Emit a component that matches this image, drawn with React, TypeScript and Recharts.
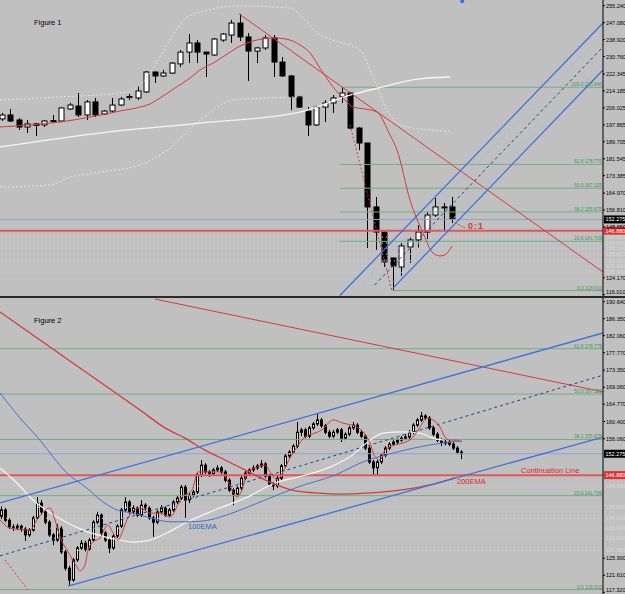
import React from 'react';
import { ComposedChart, Bar, Line, XAxis, YAxis, ReferenceLine, ReferenceDot } from 'recharts';

// ---------- Figure 1 (daily candles) ----------
const topOpen = [200.7, 202.6, 200.2, 196.8, 198.3, 197.8, 199.9, 199.7, 205.5, 206.9, 202.6, 208.9, 203.1, 204.5, 207.4, 211.3, 210.8, 213.7, 223.3, 221.4, 222.8, 227.2, 232.9, 237.3, 232.9, 231.5, 238.7, 241.1, 246.9, 240.2, 233.4, 234.9, 239.7, 228.1, 221.4, 211.3, 204.5, 197.8, 206.4, 208.4, 211.3, 213.2, 196.3, 189.1, 158.3, 146.2, 133.7, 129.4, 139.0, 142.4, 146.2, 154.4, 158.0, 158.3];
const topHigh = [203.6, 205.5, 201.2, 200.2, 198.7, 200.2, 202.6, 206.4, 208.4, 213.2, 209.8, 210.8, 205.0, 210.8, 211.3, 212.7, 216.6, 223.8, 223.5, 224.3, 228.1, 233.9, 241.6, 238.7, 233.0, 239.7, 242.1, 248.4, 251.3, 242.1, 235.4, 241.1, 241.1, 230.5, 221.9, 211.8, 206.4, 207.0, 209.8, 212.2, 216.1, 213.7, 196.8, 189.1, 163.1, 146.5, 133.9, 140.9, 143.8, 149.6, 155.9, 162.6, 160.2, 163.1];
const topLow = [199.7, 199.2, 195.4, 193.9, 192.5, 196.8, 198.7, 199.2, 205.0, 201.6, 200.2, 201.6, 202.6, 203.6, 206.9, 209.8, 209.8, 213.2, 218.0, 220.9, 222.3, 225.7, 227.6, 227.6, 220.9, 231.0, 237.8, 237.3, 238.2, 219.0, 227.6, 233.9, 220.9, 220.9, 205.0, 206.0, 192.5, 197.3, 199.2, 203.6, 208.4, 195.8, 185.7, 138.5, 137.6, 129.4, 118.3, 125.0, 131.3, 138.5, 142.8, 153.5, 146.7, 150.6];
const topClose = [202.6, 199.7, 196.8, 198.3, 197.6, 199.7, 199.7, 206.0, 207.4, 202.6, 208.9, 202.6, 204.5, 207.4, 210.3, 211.5, 214.2, 223.3, 221.4, 222.8, 227.6, 232.9, 237.3, 232.9, 232.0, 239.2, 241.6, 246.9, 240.2, 233.4, 234.9, 239.7, 228.1, 221.4, 211.3, 206.4, 197.8, 206.4, 208.4, 210.8, 213.2, 196.3, 189.1, 158.3, 146.2, 131.8, 129.8, 139.5, 142.4, 146.2, 154.4, 158.3, 158.3, 152.3];

const topTicks = [255.24, 247.08, 238.92, 230.76, 222.345, 214.185, 206.025, 197.865, 189.705, 181.545, 173.385, 164.97, 156.81, 148.65, 124.17, 116.01];

const topRedEma = [[-0.2, 196.8], [3.33, 197.8], [6.86, 199.2], [10.39, 201.6], [13.92, 204.5], [16.28, 206.4], [17.46, 207.9], [18.63, 210.8], [20.4, 215.6], [22.16, 220.4], [23.34, 224.3], [25.1, 228.1], [26.87, 232.9], [28.05, 235.8], [29.23, 237.8], [30.64, 239.2], [32.17, 239.7], [33.93, 238.7], [35.11, 236.3], [36.29, 232.5], [37.46, 225.2], [39.0, 216.1], [40.41, 209.8], [41.35, 206.4], [42.76, 205.5], [44.17, 204.0], [45.7, 193.0], [46.53, 185.7], [48.06, 161.6], [49.59, 145.7], [50.76, 136.1], [51.59, 134.7], [52.29, 135.6], [53.0, 139.5]];
const topWhiteMa = [[-0.2, 187.2], [11.57, 193.9], [23.34, 198.7], [35.11, 204.0], [41.0, 212.2], [44.88, 216.1], [48.88, 219.9], [52.77, 220.9]];
const topUpperBand = [[-0.2, 209.8], [6.86, 211.3], [13.92, 213.2], [16.28, 217.0], [18.04, 226.7], [19.81, 238.7], [21.22, 247.4], [23.34, 252.2], [28.05, 255.1], [33.93, 254.1], [35.7, 248.4], [37.11, 242.1], [38.99, 238.7], [42.17, 233.9], [43.7, 220.9], [45.35, 205.0], [46.88, 197.8], [50.41, 195.4], [52.77, 194.9]];
const topLowerBand = [[-0.2, 167.9], [5.69, 168.9], [7.69, 172.2], [11.57, 175.1], [16.28, 178.5], [19.46, 185.7], [23.34, 200.2], [27.22, 209.8], [35.11, 211.3]];

const topUpperBlue = [[39.8, 115.6], [70.77, 246.9]];
const topLowerBlue = [[46.06, 119.2], [70.77, 224.3]];
const topMidDash = [[43.9, 120.7], [70.77, 235.4]];
const topLightDash1 = [[41.0, 115.4], [70.77, 242.1]];
const topLightDash2 = [[44.4, 115.4], [70.77, 227.6]];
const topRedTrend = [[27.93, 251.3], [70.77, 126.95]];
const topRedZig = [[41.0, 197.8], [45.9, 118.3]];
const topArrow = [[53.35, 150.6], [54.53, 148.2]];

const fibNames = ['100.0', '61.8', '50.0', '38.2', '23.6', '0.0'];
const fibValues = [215.94, 178.775, 167.325, 155.875, 141.709, 118.01];
const topFibStart = [40.2, 39.8, 39.8, 39.8, 39.8, 45.9];
const topGrayLevels = [143.8, 140.9, 138.5, 135.6, 132.3, 129.8, 126.9];

// ---------- Figure 2 (short-term candles) ----------
const botOpen = [136.5, 138.1, 135.5, 133.8, 133.5, 134.0, 133.3, 131.8, 133.0, 136.1, 139.8, 137.6, 135.0, 131.8, 130.5, 133.5, 127.5, 123.4, 120.4, 125.5, 128.5, 129.7, 128.2, 130.5, 135.0, 136.8, 132.3, 130.5, 128.5, 131.5, 134.0, 138.1, 140.1, 137.6, 138.6, 136.8, 139.3, 138.6, 136.1, 135.0, 137.6, 138.6, 136.8, 138.1, 140.1, 141.1, 143.9, 140.6, 141.8, 142.6, 146.9, 149.4, 147.7, 147.2, 148.2, 148.7, 147.7, 145.6, 143.1, 142.1, 143.6, 146.1, 147.4, 148.2, 148.7, 149.2, 149.7, 146.7, 144.6, 144.1, 146.1, 149.2, 151.7, 152.7, 154.2, 157.7, 158.3, 156.7, 158.8, 159.8, 160.8, 159.3, 157.7, 156.7, 157.7, 158.3, 156.2, 157.2, 158.8, 159.5, 157.7, 156.7, 153.7, 150.2, 148.7, 150.2, 151.9, 153.7, 154.7, 155.2, 155.7, 156.2, 156.5, 157.7, 159.5, 160.8, 161.8, 161.3, 158.8, 157.2, 155.7, 155.2, 155.2, 154.7, 153.7, 152.7];
const botHigh = [139.0, 138.6, 136.0, 134.5, 134.6, 134.4, 133.8, 133.5, 136.6, 141.3, 140.6, 138.0, 135.5, 132.3, 134.5, 134.0, 128.0, 124.0, 126.0, 129.0, 130.5, 130.3, 131.0, 135.5, 137.6, 137.2, 132.8, 131.0, 132.0, 134.5, 138.6, 141.3, 140.6, 139.3, 139.0, 140.6, 139.8, 139.0, 136.6, 138.1, 139.3, 139.0, 138.6, 140.6, 141.8, 144.4, 144.4, 142.3, 143.1, 147.4, 150.7, 149.9, 148.2, 148.7, 149.4, 149.2, 148.2, 146.1, 143.6, 144.1, 146.7, 147.9, 148.7, 149.4, 149.7, 150.7, 150.2, 147.2, 145.1, 146.7, 149.7, 152.2, 153.2, 154.7, 160.3, 158.8, 158.8, 159.3, 160.3, 162.5, 161.3, 159.8, 158.3, 158.3, 158.8, 158.8, 157.7, 159.3, 160.3, 160.0, 158.3, 157.2, 154.2, 150.7, 150.7, 152.4, 154.2, 155.2, 155.7, 156.2, 156.7, 157.2, 158.3, 160.0, 161.3, 162.8, 162.3, 161.8, 159.3, 157.7, 156.2, 156.0, 155.7, 155.2, 154.2, 153.2];
const botLow = [135.8, 135.0, 133.3, 132.8, 133.0, 132.6, 130.3, 131.3, 132.6, 135.8, 137.0, 134.5, 131.3, 129.2, 130.0, 127.0, 122.8, 119.1, 120.0, 125.0, 128.0, 127.6, 127.8, 130.0, 134.5, 131.8, 130.0, 127.2, 128.0, 131.0, 133.5, 137.6, 137.0, 137.0, 136.3, 136.3, 138.0, 135.6, 131.3, 134.5, 137.0, 136.3, 136.3, 137.6, 139.6, 140.6, 136.1, 139.8, 141.3, 142.1, 146.4, 147.2, 146.4, 146.7, 147.7, 147.2, 145.1, 142.6, 139.3, 141.6, 143.1, 145.6, 146.9, 147.7, 148.2, 148.7, 146.1, 144.1, 143.1, 143.6, 145.6, 148.7, 151.2, 152.2, 153.7, 156.7, 156.2, 156.2, 158.3, 159.3, 158.8, 157.2, 156.2, 156.2, 157.2, 155.2, 155.7, 156.7, 158.3, 157.2, 156.2, 153.2, 149.7, 146.9, 146.9, 149.7, 151.4, 153.2, 154.2, 154.7, 155.2, 155.7, 156.0, 157.2, 159.0, 160.3, 160.8, 158.3, 156.7, 155.2, 154.2, 154.4, 154.2, 153.2, 152.2, 150.9];
const botClose = [138.1, 135.5, 133.8, 133.5, 134.0, 133.3, 131.8, 133.0, 136.1, 139.8, 137.6, 135.0, 131.8, 130.5, 133.5, 127.5, 123.4, 120.4, 125.5, 128.5, 129.7, 128.2, 130.5, 135.0, 136.8, 132.3, 130.5, 128.5, 131.5, 134.0, 138.1, 140.1, 137.6, 138.6, 136.8, 139.3, 138.6, 136.1, 135.0, 137.6, 138.6, 136.8, 138.1, 140.1, 141.1, 143.9, 140.6, 141.8, 142.6, 146.9, 149.4, 147.7, 147.2, 148.2, 148.7, 147.7, 145.6, 143.1, 142.1, 143.6, 146.1, 147.4, 148.2, 148.7, 149.2, 149.7, 146.7, 144.6, 144.1, 146.1, 149.2, 151.7, 152.7, 154.2, 157.7, 158.3, 156.7, 158.8, 159.8, 160.8, 159.3, 157.7, 156.7, 157.7, 158.3, 156.2, 157.2, 158.8, 159.5, 157.7, 156.7, 153.7, 150.2, 148.7, 150.2, 151.9, 153.7, 154.7, 155.2, 155.7, 156.2, 156.5, 157.7, 159.5, 160.8, 161.8, 161.3, 158.8, 157.2, 155.7, 155.2, 155.2, 154.7, 153.7, 152.7, 152.3];

const botTicks = [190.64, 186.35, 182.06, 177.77, 173.35, 169.06, 164.77, 160.4, 156.06, 125.9, 121.61, 117.32];

const botRedEma = [[-0.25, 135.6], [2.25, 133.5], [7.25, 133.0], [9.0, 135.6], [12.25, 138.6], [13.5, 135.6], [14.75, 131.3], [16.5, 128.0], [19.0, 123.7], [19.75, 122.7], [21.0, 124.2], [21.75, 128.0], [23.0, 130.0], [24.75, 131.0], [26.0, 133.5], [26.75, 134.3], [28.0, 132.3], [29.25, 130.5], [30.5, 133.0], [31.5, 135.6], [32.75, 137.6], [34.75, 138.6], [37.25, 137.3], [39.75, 137.3], [42.25, 136.3], [45.25, 141.4], [47.75, 143.1], [49.25, 147.7], [51.0, 147.7], [55.25, 147.7], [56.5, 145.7], [57.75, 143.1], [59.0, 141.4], [60.25, 143.1], [61.5, 147.4], [63.5, 148.7], [66.0, 149.4], [67.75, 146.9], [69.0, 145.7], [70.5, 147.7], [72.25, 151.2], [74.0, 154.0], [76.0, 156.5], [78.5, 157.5], [80.25, 158.3], [83.0, 160.8], [85.5, 160.0], [89.0, 159.0], [90.5, 157.8], [92.25, 155.0], [93.5, 151.5], [94.75, 150.7], [96.0, 153.2], [98.5, 154.5], [100.5, 155.0], [102.75, 156.2], [104.75, 159.0], [106.5, 161.3], [108.0, 160.8], [109.75, 159.0], [111.0, 156.5], [112.25, 155.7], [114.0, 155.7], [115.25, 155.2]];
const bot200Ema = [[-0.25, 188.04], [12.25, 179.2], [24.75, 170.4], [34.75, 163.3], [41.0, 158.8], [46.0, 156.2], [51.0, 153.2], [56.0, 150.7], [61.0, 148.2], [66.0, 145.7], [72.75, 143.1], [78.5, 142.4], [83.5, 142.1], [92.25, 142.4], [99.75, 143.1], [107.25, 144.4], [113.5, 146.2]];
const bot100Ema = [[-0.25, 167.6], [4.75, 161.3], [9.75, 155.7], [13.0, 151.5], [16.5, 147.4], [21.5, 143.6], [25.5, 140.1], [29.0, 138.1], [33.0, 137.3], [37.25, 136.1], [42.25, 135.1], [47.25, 135.1], [52.25, 135.6], [57.75, 137.3], [66.0, 140.6], [74.25, 143.9], [83.5, 146.9], [90.5, 150.2], [99.0, 152.7], [107.25, 154.5], [115.25, 155.5]];
const botWhiteMa = [[-0.25, 148.7], [4.0, 144.9], [8.0, 140.6], [14.0, 136.3], [20.5, 133.0], [27.25, 131.0], [33.0, 130.0], [37.25, 130.5], [41.5, 132.3], [46.0, 134.8], [53.5, 138.1], [61.75, 141.4], [68.5, 144.9], [74.25, 146.4], [82.25, 148.9], [87.25, 151.5], [92.25, 155.7], [95.5, 157.5], [100.5, 157.8], [104.75, 157.5], [108.0, 156.2], [110.5, 155.7]];

const botUpperBlue = [[-0.25, 139.85], [150.5, 182.74]];
const botLowerBlue = [[16.75, 118.9], [150.5, 156.5]];
const botMidDash = [[-0.25, 126.5], [150.5, 172.1]];
const botRedTrend = [[38.5, 191.3], [150.5, 167.9]];
const botRedDotted = [[1.0, 125.5], [6.75, 117.9]];
const botGrayLevels = [144.1, 138.8, 136.0, 133.5, 131.0, 127.9];

const lastPrice = 152.275;
const contLine = 146.88;

const topData = topOpen.map((o, i) => ({ x: i, open: o, high: topHigh[i], low: topLow[i], close: topClose[i], range: [topLow[i], topHigh[i]] }));
const botData = botOpen.map((o, i) => ({ x: i, open: o, high: botHigh[i], low: botLow[i], close: botClose[i], range: [botLow[i], botHigh[i]] }));
const pts = (a: number[][]) => a.map(([x, y]) => ({ x, y }));

const RED = '#d53a3a';
const BLUE = '#3c72e0';
const GREEN = '#72ae82';
const FIBTXT = '#3e9a58';
const FONT = 'Liberation Sans';

function Candle(props: any) {
  const { x, y, width, height, payload, bodyW, hollow } = props;
  if (!payload) return null;
  const { open, close, high, low } = payload;
  const top = Math.min(y, y + height);
  const h = Math.abs(height);
  const k = high > low ? h / (high - low) : 0;
  const cx = Math.round(x + width / 2) + 0.5;
  const bTop = top + (high - Math.max(open, close)) * k;
  const bH = Math.max(1, Math.abs(open - close) * k);
  const up = close >= open;
  return (
    <g>
      <line x1={cx} x2={cx} y1={top} y2={top + h} stroke="#000" strokeWidth={1} />
      <rect x={cx - bodyW / 2} y={bTop} width={bodyW} height={bH}
        fill={up ? hollow : '#000'} stroke="#000" strokeWidth={1} />
    </g>
  );
}

// price labels on the right axis; kept clear of the panel's bottom edge
function AxisTick(props: any) {
  const { x, y, payload } = props;
  const ty = Math.min(y, 292);
  return (
    <text x={x} y={ty} dy={2} fontSize={5.5} fill="#000" fontFamily={FONT} textAnchor="start">
      {Number(payload.value).toFixed(3)}
    </text>
  );
}

function Badge(props: any) {
  const { viewBox, text, bg, color } = props;
  if (!viewBox) return null;
  const x = viewBox.x + viewBox.width + 1;
  const y = viewBox.y;
  return (
    <g>
      {bg && <rect x={x} y={y - 4} width={21} height={8} fill={bg} />}
      <text x={x + 1.5} y={y + 2} fontSize={5.5} fill={color} fontFamily={FONT}>{text}</text>
    </g>
  );
}

function curve(key: string, data: number[][], stroke: string, width = 1, dash?: string, type: any = 'monotone') {
  return (
    <Line key={key} data={pts(data)} dataKey="y" type={type} stroke={stroke} strokeWidth={width} strokeDasharray={dash}
      dot={false} activeDot={false} isAnimationActive={false} />
  );
}

const axisProps = {
  orientation: 'right' as const,
  width: 22,
  interval: 0 as const,
  allowDataOverflow: true,
  tickSize: 2,
  tickMargin: 1,
  axisLine: { stroke: '#000' },
  tickLine: { stroke: '#000' },
  tick: <AxisTick />,
};

function TopChart() {
  return (
    <ComposedChart width={625} height={296} data={topData} margin={{ top: 0, right: 0, bottom: 0, left: 0 }}>
      <XAxis dataKey="x" type="number" domain={[-0.2, 70.77]} hide allowDataOverflow />
      <YAxis {...axisProps} domain={[115.39, 258]} ticks={topTicks} />
      {topGrayLevels.map((v) => (
        <ReferenceLine key={'g' + v} y={v} stroke="#d6d6d6" strokeDasharray="1 3" label={<Badge text={v.toFixed(3)} color="#d8d8d8" />} />
      ))}
      {fibValues.map((v, i) => (
        <ReferenceLine key={'f' + v} segment={[{ x: topFibStart[i], y: v }, { x: 70.77, y: v }]} stroke={GREEN} />
      ))}
      {fibValues.map((v, i) => (
        <ReferenceLine key={'fl' + v} y={v} stroke="none"
          label={{ value: fibNames[i] + ' ' + v.toFixed(3), position: 'insideBottomRight', offset: 1, fill: FIBTXT, fontSize: 4.8, fontFamily: FONT }} />
      ))}
      <ReferenceLine y={lastPrice} stroke="#8ea3d6" label={<Badge text="152.275" bg="#000" color="#fff" />} />
      <ReferenceLine y={contLine} stroke="#e05858" strokeWidth={2} label={<Badge text="146.880" bg="#e03030" color="#fff" />} />
      {curve('ub', topUpperBand, '#e2e2e2', 1, '2 2')}
      {curve('lb', topLowerBand, '#e2e2e2', 1, '2 2')}
      {curve('wm', topWhiteMa, '#f5f5f5', 1.3)}
      <Bar dataKey="range" barSize={5} shape={(p: any) => <Candle {...p} bodyW={5} hollow="#fff" />} isAnimationActive={false} />
      {curve('re', topRedEma, RED, 1)}
      {curve('rt', topRedTrend, RED, 1, undefined, 'linear')}
      {curve('rz', topRedZig, RED, 1, '2 2', 'linear')}
      {curve('ld1', topLightDash1, '#a3b8e8', 1, '3 3', 'linear')}
      {curve('ld2', topLightDash2, '#a3b8e8', 1, '3 3', 'linear')}
      {curve('md', topMidDash, '#2d3a9a', 1, '3 3', 'linear')}
      {curve('up', topUpperBlue, BLUE, 1.3, undefined, 'linear')}
      {curve('lo', topLowerBlue, BLUE, 1.3, undefined, 'linear')}
      {curve('ar', topArrow, RED, 1, '2 1', 'linear')}
      <ReferenceDot x={54.88} y={149.3} r={0} fill="none" stroke="none"
        label={{ value: '0:1', position: 'right', offset: 0, fill: RED, fontSize: 9, fontWeight: 'bold', fontFamily: FONT, letterSpacing: 1 }} />
      <ReferenceDot x={3.8} y={247.1} r={0} fill="none" stroke="none"
        label={{ value: 'Figure 1', position: 'right', offset: 0, fill: '#000', fontSize: 7.5, fontFamily: FONT }} />
      <ReferenceDot x={54.2} y={257.4} r={2} fill={BLUE} stroke="none" />
    </ComposedChart>
  );
}

function BottomChart() {
  return (
    <ComposedChart width={625} height={296} data={botData} margin={{ top: 0, right: 0, bottom: 0, left: 0 }}>
      <XAxis dataKey="x" type="number" domain={[-0.25, 150.5]} hide allowDataOverflow />
      <YAxis {...axisProps} domain={[116.89, 191.57]} ticks={botTicks} />
      {botGrayLevels.map((v) => (
        <ReferenceLine key={'g' + v} y={v} stroke="#d6d6d6" strokeDasharray="1 3" label={<Badge text={v.toFixed(3)} color="#d8d8d8" />} />
      ))}
      {fibValues.slice(1).map((v, i) => (
        <ReferenceLine key={'f' + v} y={v} stroke={GREEN}
          label={{ value: fibNames[i + 1] + ' ' + v.toFixed(3), position: 'insideBottomRight', offset: 1, fill: FIBTXT, fontSize: 4.8, fontFamily: FONT }} />
      ))}
      <ReferenceLine y={lastPrice} stroke="#8ea3d6" label={<Badge text="152.275" bg="#000" color="#fff" />} />
      <ReferenceLine y={contLine} stroke="#e05858" strokeWidth={2} label={<Badge text="146.880" bg="#e03030" color="#fff" />} />
      {curve('wm', botWhiteMa, '#f5f5f5', 1.2)}
      {curve('e100', bot100Ema, '#4a6fd0', 1)}
      {curve('e200', bot200Ema, RED, 1.3)}
      {curve('rt', botRedTrend, RED, 1, undefined, 'linear')}
      {curve('rd', botRedDotted, RED, 1, '2 2', 'linear')}
      {curve('md', botMidDash, '#2d3a9a', 1, '3 3', 'linear')}
      {curve('up', botUpperBlue, BLUE, 1.3, undefined, 'linear')}
      {curve('lo', botLowerBlue, BLUE, 1.3, undefined, 'linear')}
      <Bar dataKey="range" barSize={2} shape={(p: any) => <Candle {...p} bodyW={2} hollow="#e8e8e8" />} isAnimationActive={false} />
      {curve('re', botRedEma, RED, 1)}
      <ReferenceDot x={8.25} y={186.0} r={0} fill="none" stroke="none"
        label={{ value: 'Figure 2', position: 'right', offset: 0, fill: '#000', fontSize: 7.5, fontFamily: FONT }} />
      <ReferenceDot x={130.0} y={148.2} r={0} fill="none" stroke="none"
        label={{ value: 'Continuation Line', position: 'right', offset: 0, fill: '#e02828', fontSize: 7.5, fontFamily: FONT }} />
      <ReferenceDot x={114.0} y={145.3} r={0} fill="none" stroke="none"
        label={{ value: '200EMA', position: 'right', offset: 0, fill: '#e02828', fontSize: 7.5, fontFamily: FONT }} />
      <ReferenceDot x={46.75} y={134.0} r={0} fill="none" stroke="none"
        label={{ value: '100EMA', position: 'right', offset: 0, fill: '#3a62c8', fontSize: 7.5, fontFamily: FONT }} />
    </ComposedChart>
  );
}

export default function App() {
  return (
    <div style={{ position: 'absolute', left: 0, top: 0, width: 625, height: 594, background: '#c0c0c0' }}>
      <TopChart />
      <div style={{ height: 2, background: '#2a2a2a' }} />
      <BottomChart />
    </div>
  );
}
